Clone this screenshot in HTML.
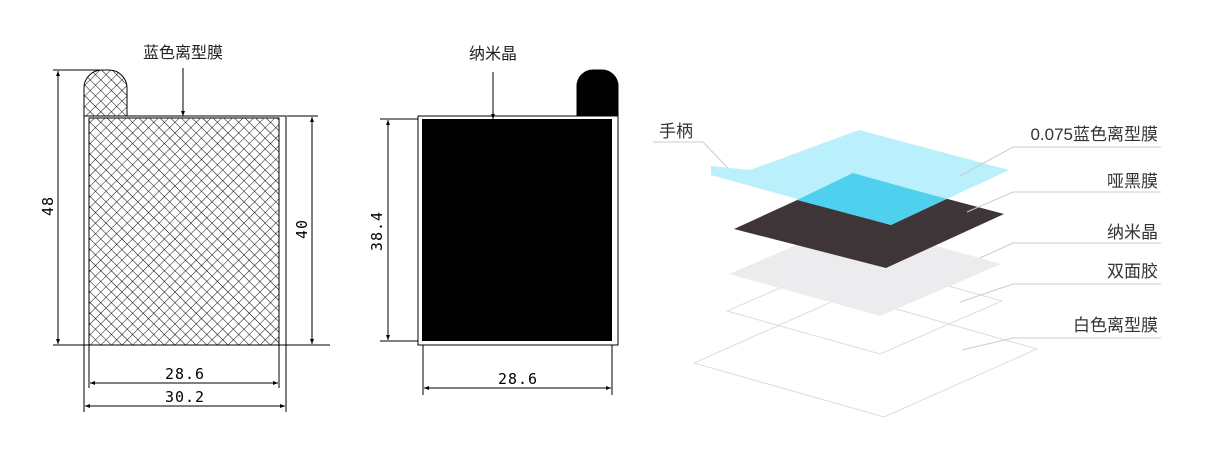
<!DOCTYPE html>
<html><head><meta charset="utf-8"><style>
html,body{margin:0;padding:0;background:#fff}
svg{display:block}
text{font-family:"Liberation Sans","Noto Sans CJK SC",sans-serif}
.m{font-family:"DejaVu Sans Mono","Liberation Mono",monospace;font-size:15px;letter-spacing:1px}
</style></head><body>
<svg width="1209" height="471" viewBox="0 0 1209 471" xmlns="http://www.w3.org/2000/svg">
<defs>
<pattern id="h" width="7.5" height="7.5" patternUnits="userSpaceOnUse" patternTransform="rotate(45)">
<path d="M0 0H7.5M0 0V7.5" stroke="#000" stroke-width="0.9"/>
</pattern>
<marker id="a" viewBox="0 0 10 10" refX="10" refY="5" markerWidth="10" markerHeight="5" orient="auto-start-reverse" markerUnits="userSpaceOnUse">
<path d="M0 1L10 5L0 9z" fill="#000"/></marker>
</defs>
<g stroke="#000" stroke-width="1" fill="none">
<path d="M84 116V88A18 18 0 0 1 102 70H109A18 18 0 0 1 127 88V116Z" fill="url(#h)"/>
<rect x="84" y="116" width="202" height="229" fill="#fff"/>
<rect x="89" y="118" width="190" height="227" fill="url(#h)"/>
<rect x="84" y="116" width="202" height="229" fill="none"/>
<line x1="53" y1="70" x2="100" y2="70"/>
<line x1="53" y1="345" x2="330" y2="345"/>
<line x1="58" y1="71" x2="58" y2="344" marker-start="url(#a)" marker-end="url(#a)"/>
<line x1="287" y1="116" x2="318" y2="116"/>
<line x1="312" y1="117" x2="312" y2="344" marker-start="url(#a)" marker-end="url(#a)"/>
<line x1="89" y1="345" x2="89" y2="388"/><line x1="279" y1="345" x2="279" y2="388"/>
<line x1="90" y1="383" x2="278" y2="383" marker-start="url(#a)" marker-end="url(#a)"/>
<line x1="84" y1="345" x2="84" y2="412"/><line x1="286" y1="345" x2="286" y2="412"/>
<line x1="85" y1="406" x2="285" y2="406" marker-start="url(#a)" marker-end="url(#a)"/>
<line x1="183" y1="68" x2="183" y2="116" marker-end="url(#a)"/>
<path d="M577 116V86A16 16 0 0 1 593 70H602A16 16 0 0 1 618 86V116Z" fill="#000"/>
<rect x="418" y="116" width="200" height="229" fill="#fff"/>
<rect x="422" y="119" width="190" height="222" fill="#000" stroke="none"/>
<line x1="380" y1="119" x2="418" y2="119"/><line x1="380" y1="341" x2="418" y2="341"/>
<line x1="388" y1="120" x2="388" y2="340" marker-start="url(#a)" marker-end="url(#a)"/>
<line x1="423" y1="345" x2="423" y2="395"/><line x1="612" y1="345" x2="612" y2="395"/>
<line x1="424" y1="388" x2="611" y2="388" marker-start="url(#a)" marker-end="url(#a)"/>
<line x1="493" y1="72" x2="493" y2="119" marker-end="url(#a)"/>
</g>
<text x="183" y="58" font-size="16" text-anchor="middle" fill="#222">蓝色离型膜</text>
<text x="493" y="59" font-size="16" text-anchor="middle" fill="#222">纳米晶</text>
<text class="m" x="185" y="379" text-anchor="middle">28.6</text>
<text class="m" x="185" y="402" text-anchor="middle">30.2</text>
<text class="m" x="518" y="384" text-anchor="middle">28.6</text>
<text class="m" transform="translate(53,206) rotate(-90)" text-anchor="middle">48</text>
<text class="m" transform="translate(307,229) rotate(-90)" text-anchor="middle">40</text>
<text class="m" transform="translate(382,231) rotate(-90)" text-anchor="middle">38.4</text>
<g stroke="#ddd" stroke-width="1" fill="none">
<polygon points="847,295 1037,349 884,417 694,363"/>
<polygon points="849,258 1002,301 880,354 727,311"/>
</g>
<polygon points="850,222 1001,264 880,316 729,274" fill="#ececee"/>
<polygon points="854,174 1004,214 886,268 734,229" fill="#3d3537"/>
<polygon points="859,130 1009,170 891,225 711,175 711,166 750,170" fill="#a8ecfa" opacity="0.8"/>
<polygon points="853,173 946,199 891,225 797,200" fill="#4fd0ee"/>
<g stroke="#ccc" stroke-width="1" fill="none">
<polyline points="653,142 703,142 728,168"/>
<polyline points="1161,147 1013,147 960,176"/>
<polyline points="1161,192 1013,192 967,212"/>
<polyline points="1161,243 1013,243 980,258"/>
<polyline points="1161,284 1013,284 960,302"/>
<polyline points="1161,338 1013,338 962,350"/>
</g>
<g font-size="17" fill="#333" text-anchor="end">
<text x="693" y="137">手柄</text>
<text x="1158" y="140">0.075蓝色离型膜</text>
<text x="1158" y="187">哑黑膜</text>
<text x="1158" y="238">纳米晶</text>
<text x="1158" y="277">双面胶</text>
<text x="1158" y="331">白色离型膜</text>
</g>
</svg>
</body></html>
